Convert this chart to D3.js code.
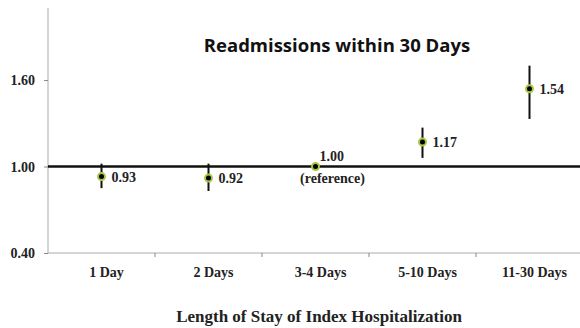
<!DOCTYPE html>
<html>
<head>
<meta charset="utf-8">
<script src="https://cdn.jsdelivr.net/npm/d3@7/dist/d3.min.js"></script>
<style>
  body { margin: 0; background: #fff; }
  .tick text { font-family: "Liberation Serif", "Times New Roman", serif; font-weight: bold; font-size: 14px; fill: #222; }
</style>
</head>
<body>
<div id="chart"></div>
<script>
var categories = ["1 Day", "2 Days", "3-4 Days", "5-10 Days", "11-30 Days"],
    estimates = [0.93, 0.92, 1.00, 1.17, 1.54],
    lower = [0.85, 0.83, 1.00, 1.06, 1.33],
    upper = [1.02, 1.02, 1.00, 1.27, 1.70],
    yTicks = [0.40, 1.00, 1.60];

var margin = { top: 8, right: 0, bottom: 75, left: 48 },
    width = 583 - margin.left - margin.right,
    height = 328 - margin.top - margin.bottom,
    svg;

var data = categories.map(function(c, i) {
    return { cat: c, est: estimates[i], lo: lower[i], hi: upper[i] };
});

svg = d3.select("#chart").append("svg")
    .attr("width", 580)
    .attr("height", 328)
    .append("g")
    .attr("transform", "translate(" + margin.left + "," + margin.top + ")");

var x = d3.scaleBand().domain(categories).range([0, width]),
    y = d3.scaleLinear().domain([0.40, 2.10]).range([height, 0]);

// y axis
var yAxis = svg.append("g")
    .call(d3.axisLeft(y).tickValues(yTicks).tickFormat(d3.format(".2f")).tickSize(4).tickPadding(9));
yAxis.select(".domain").attr("stroke", "#aaa").attr("d", "M0," + height + "V0");
yAxis.selectAll(".tick line").attr("stroke", "#888");

// x axis
var xAxis = svg.append("g")
    .attr("transform", "translate(0," + height + ")")
    .call(d3.axisBottom(x).tickSize(0).tickPadding(14));
xAxis.select(".domain").attr("stroke", "#aaa").attr("d", "M0,0H" + width);
xAxis.selectAll(".tick text").attr("dx", 5);
xAxis.selectAll(".bound")
    .data(categories.slice(1))
    .enter().append("line")
    .attr("x1", function(d) { return x(d); })
    .attr("x2", function(d) { return x(d); })
    .attr("y1", 0).attr("y2", 4)
    .attr("stroke", "#888");

// reference line at 1.00
svg.append("line")
    .attr("x1", 0).attr("x2", width)
    .attr("y1", y(1)).attr("y2", y(1))
    .attr("stroke", "#111").attr("stroke-width", 2.5);

var cx = function(d) { return x(d.cat) + x.bandwidth() / 2; };

// error bars
svg.selectAll(".err")
    .data(data.filter(function(d) { return d.hi > d.lo; }))
    .enter().append("line")
    .attr("x1", cx).attr("x2", cx)
    .attr("y1", function(d) { return y(d.hi); })
    .attr("y2", function(d) { return y(d.lo); })
    .attr("stroke", "#111").attr("stroke-width", 2);

// points
svg.selectAll(".pt")
    .data(data)
    .enter().append("circle")
    .attr("cx", cx)
    .attr("cy", function(d) { return y(d.est); })
    .attr("r", 3.5)
    .attr("fill", "#000")
    .attr("stroke", "#a8c840")
    .attr("stroke-width", 2);

// value labels
var serif = "'Liberation Serif', 'Times New Roman', serif";
svg.selectAll(".val")
    .data(data.filter(function(d) { return d.est !== 1; }))
    .enter().append("text")
    .attr("x", function(d) { return cx(d) + 10; })
    .attr("y", function(d) { return y(d.est) + 5; })
    .attr("font-family", serif).attr("font-weight", "bold").attr("font-size", 14)
    .attr("fill", "#222")
    .text(function(d) { return d3.format(".2f")(d.est); });

var ref = data[2];
svg.append("text")
    .attr("x", cx(ref) + 4).attr("y", y(1) - 6)
    .attr("font-family", serif).attr("font-weight", "bold").attr("font-size", 14)
    .attr("fill", "#222")
    .text("1.00");
svg.append("text")
    .attr("x", cx(ref) + 17).attr("y", y(1) + 16)
    .attr("text-anchor", "middle")
    .attr("font-family", serif).attr("font-weight", "bold").attr("font-size", 14)
    .attr("fill", "#222")
    .text("(reference)");

// title
svg.append("text")
    .attr("x", 337 - margin.left).attr("y", 52 - margin.top)
    .attr("text-anchor", "middle")
    .attr("font-family", "'Open Sans', 'Noto Sans', sans-serif").attr("font-weight", "bold").attr("font-size", 18.5)
    .attr("fill", "#111")
    .text("Readmissions within 30 Days");

// x axis title
svg.append("text")
    .attr("x", 319 - margin.left).attr("y", 322 - margin.top)
    .attr("text-anchor", "middle")
    .attr("font-family", serif).attr("font-weight", "bold").attr("font-size", 17)
    .attr("fill", "#222")
    .text("Length of Stay of Index Hospitalization");
</script>
</body>
</html>
